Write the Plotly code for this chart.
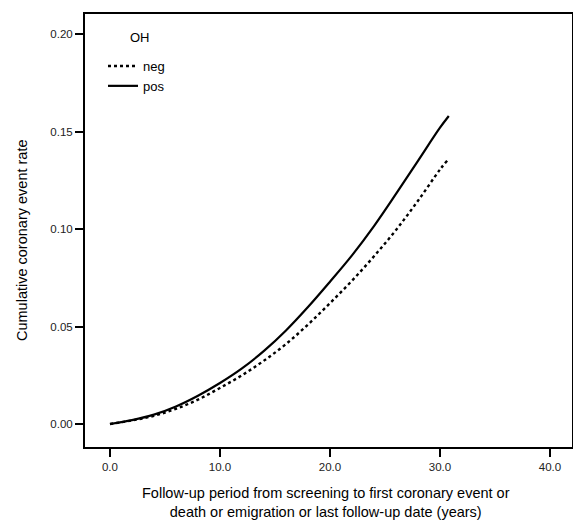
import plotly.graph_objects as go

years = [0, 2, 4, 6, 8, 10, 12, 14, 16, 18, 20, 22, 24, 26, 28, 30, 30.8]
pos_rate = [0, 0.002, 0.0048, 0.009, 0.0145, 0.021, 0.0285, 0.0375, 0.048, 0.060,
            0.073, 0.0865, 0.1015, 0.118, 0.135, 0.152, 0.158]
neg_rate = [0, 0.0018, 0.0042, 0.0078, 0.0125, 0.0185, 0.025, 0.0325, 0.041, 0.051,
            0.062, 0.0735, 0.086, 0.0995, 0.1145, 0.1305, 0.136]
x_ticks = [0, 10, 20, 30, 40]
y_ticks = [0.00, 0.05, 0.10, 0.15, 0.20]

font = "Liberation Sans, Arial, sans-serif"
W, H = 573, 520
ML, MR, MT, MB = 85, 1, 14, 73
pw, ph = W - ML - MR, H - MT - MB

fig = go.Figure()
fig.add_trace(go.Scatter(x=years, y=neg_rate, mode="lines", name="neg",
                         line=dict(color="black", width=2.4, dash="3px,3px", shape="spline")))
fig.add_trace(go.Scatter(x=years, y=pos_rate, mode="lines", name="pos",
                         line=dict(color="black", width=2.2, shape="spline")))

def px_x(p):
    return (p - ML) / pw

def px_y(p):
    return 1 - (p - MT) / ph

fig.update_layout(
    width=W, height=H,
    margin=dict(l=ML, r=MR, t=MT, b=MB, autoexpand=False),
    paper_bgcolor="white", plot_bgcolor="white",
    font=dict(family=font, color="black", size=11),
    legend=dict(x=px_x(103), y=px_y(51), xanchor="left", yanchor="top",
                bgcolor="rgba(0,0,0,0)", font=dict(size=13, color="black"),
                tracegroupgap=0),
    xaxis=dict(range=[-2.27, 42.0], tickvals=x_ticks, tickformat=".1f",
               showgrid=False, zeroline=False, showline=True, linecolor="black",
               linewidth=2, mirror=True, ticks="outside", ticklen=8, tickwidth=1.5,
               tickcolor="black", tickfont=dict(size=11.5, color="#222"), automargin=False),
    yaxis=dict(range=[-0.0118, 0.2103], tickvals=y_ticks, tickformat=".2f",
               showgrid=False, zeroline=False, showline=True, linecolor="black",
               linewidth=2, mirror=True, ticks="outside", ticklen=8, tickwidth=1.5,
               tickcolor="black", tickfont=dict(size=11.5, color="#222"), automargin=False),
    annotations=[
        dict(text="OH", xref="paper", yref="paper", x=px_x(140), y=px_y(37),
             xanchor="center", yanchor="middle", showarrow=False,
             font=dict(size=13, color="black")),
        dict(text="Follow-up period from screening to first coronary event or<br>death or emigration or last follow-up date (years)",
             xref="paper", yref="paper", x=px_x(326), y=px_y(483),
             xanchor="center", yanchor="top", showarrow=False,
             font=dict(size=14.5, color="black")),
        dict(text="Cumulative coronary event rate", textangle=-90,
             xref="paper", yref="paper", x=px_x(22), y=px_y(240),
             xanchor="center", yanchor="middle", showarrow=False,
             font=dict(size=14.5, color="black")),
    ],
)

fig.write_html("out.html", config={"displayModeBar": False},
               post_script="document.body.style.margin='0px';document.body.style.overflow='hidden';")
